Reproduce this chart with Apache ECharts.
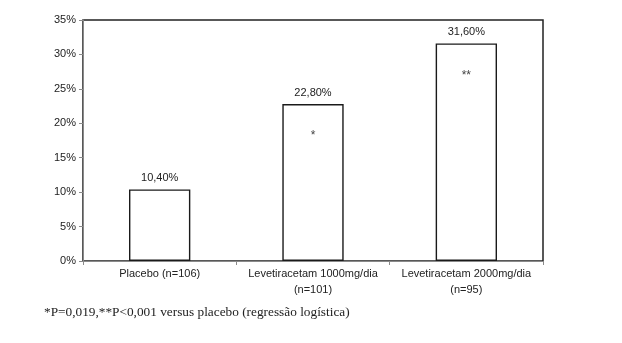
<!DOCTYPE html>
<html>
<head>
<meta charset="utf-8">
<script src="https://cdn.jsdelivr.net/npm/echarts@6/dist/echarts.min.js"></script>
<style>
  html, body { margin: 0; padding: 0; background: #fff; }
  #chart { width: 622px; height: 343px; }
</style>
</head>
<body>
<div id="chart"></div>
<script>
// Responders (%) by treatment group
const categories = ['Placebo (n=106)', 'Levetiracetam 1000mg/dia\n(n=101)', 'Levetiracetam 2000mg/dia\n(n=95)'];
const responders = [10.4, 22.8, 31.6];
const significance = ['', '*', '**'];
const yTicks = [0, 5, 10, 15, 20, 25, 30, 35];
const footnote = '*P=0,019,**P<0,001 versus placebo (regressão logística)';

const fmt = v => v.toFixed(2).replace('.', ',') + '%';

const chart = echarts.init(document.getElementById('chart'));
chart.setOption({
  animation: false,
  backgroundColor: '#fff',
  grid: {
    left: 83, right: 79, top: 20, bottom: 82,
    show: true, borderColor: '#222', borderWidth: 1.5, backgroundColor: 'transparent'
  },
  xAxis: {
    type: 'category',
    data: categories,
    axisLine: { lineStyle: { color: '#8a8a8a', width: 1 } },
    axisTick: { show: true, length: 4, lineStyle: { color: '#8a8a8a' } },
    axisLabel: {
      color: '#222', fontFamily: 'Liberation Sans', fontSize: 11,
      lineHeight: 16, margin: 5, interval: 0
    }
  },
  yAxis: {
    type: 'value',
    min: yTicks[0], max: yTicks[yTicks.length - 1], interval: 5,
    splitLine: { show: false },
    axisLine: { show: true, lineStyle: { color: '#8a8a8a', width: 1 } },
    axisTick: { show: true, length: 4, lineStyle: { color: '#8a8a8a' } },
    axisLabel: {
      color: '#222', fontFamily: 'Liberation Sans', fontSize: 11, margin: 7,
      formatter: v => v + '%'
    }
  },
  series: [
    {
      type: 'bar',
      data: responders,
      barWidth: '40%',
      itemStyle: { color: '#fff', borderColor: '#1a1a1a', borderWidth: 1.4 },
      label: {
        show: true, position: 'top', distance: 6,
        color: '#222', fontFamily: 'Liberation Sans', fontSize: 11,
        formatter: p => fmt(p.value)
      }
    },
    {
      type: 'bar',
      data: responders,
      barWidth: '40%',
      barGap: '-100%',
      silent: true,
      itemStyle: { color: 'transparent', borderWidth: 0 },
      label: {
        show: true, position: 'insideTop', distance: 26,
        color: '#444', fontFamily: 'Liberation Sans', fontSize: 12,
        formatter: p => significance[p.dataIndex]
      }
    }
  ],
  graphic: [
    {
      type: 'text', left: 44, top: 306,
      style: {
        text: footnote, fill: '#222',
        font: '13.3px "Liberation Serif", serif'
      }
    }
  ]
});
</script>
</body>
</html>
